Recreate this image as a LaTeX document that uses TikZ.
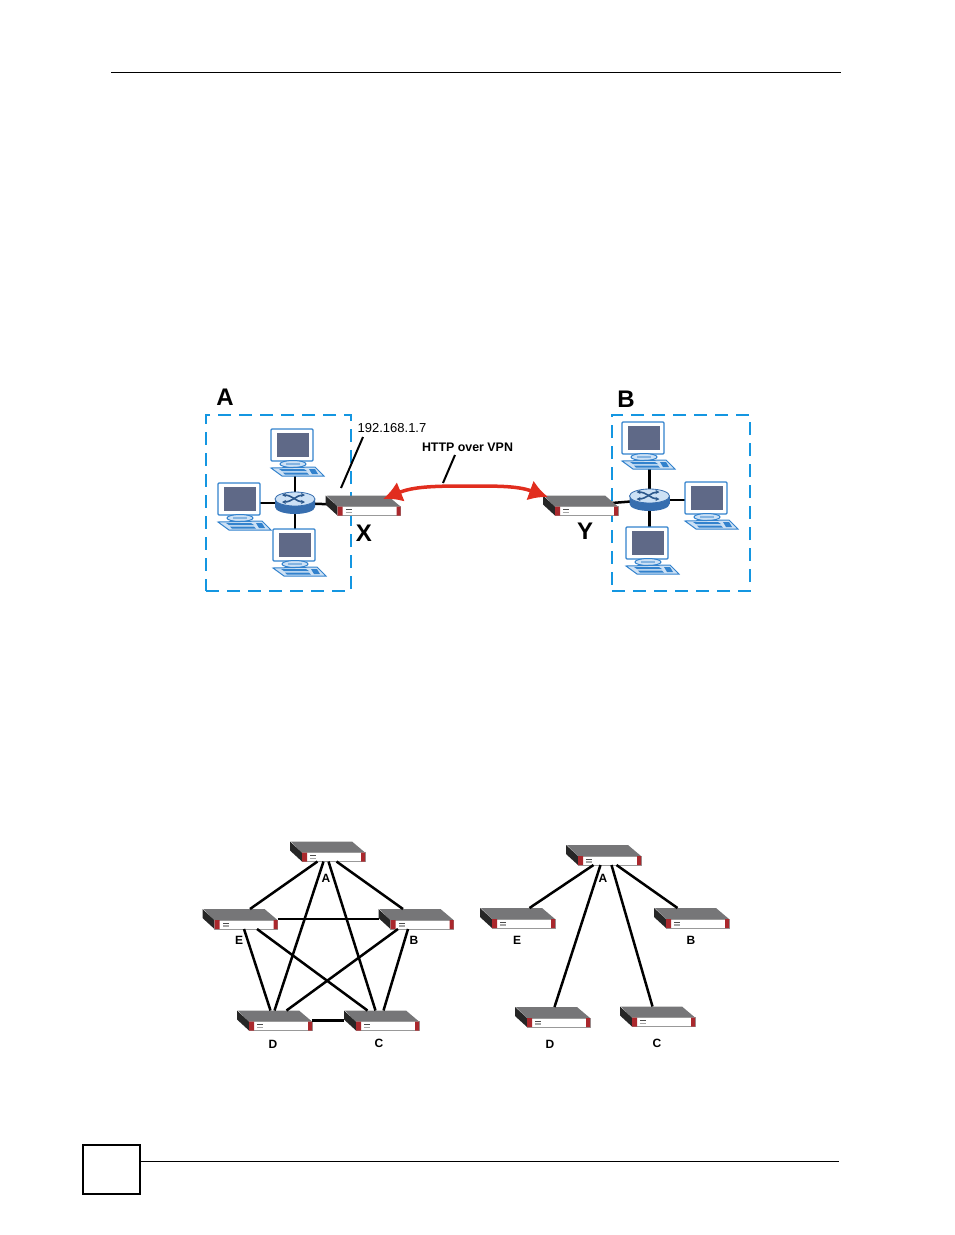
\documentclass[tikz,border=0pt]{standalone}
\usepackage{fontspec}
\setmainfont{Liberation Sans}
\usetikzlibrary{arrows.meta,backgrounds,calc}
\definecolor{zoneblue}{RGB}{20,150,225}
\definecolor{pcblue}{RGB}{50,130,205}
\definecolor{pcscreen}{RGB}{95,105,135}
\definecolor{keyfill}{RGB}{205,225,245}
\definecolor{rtrblue}{RGB}{55,110,175}
\definecolor{boxred}{RGB}{170,40,45}
\definecolor{boxtop}{RGB}{118,118,120}
\definecolor{vpnred}{RGB}{225,45,30}
\newcommand{\ArrTip}{Latex[length=19,width=21]}
\tikzset{zone/.style={draw=zoneblue,line width=2.3,dash pattern=on 13 off 8,inner sep=0,outer sep=0}}
\tikzset{devbox/.style={minimum width=75,minimum height=20,inner sep=0,outer sep=0}}
\tikzset{pcbox/.style={minimum width=53,minimum height=47,inner sep=0,outer sep=0}}
\tikzset{rtrbox/.style={minimum width=40,minimum height=22,inner sep=0,outer sep=0}}
\tikzset{link/.style={line width=2.5,black}}
\tikzset{biglabel/.style={font=\fontsize{24}{24}\selectfont\bfseries,inner sep=0}}
\tikzset{devlabel/.style={font=\fontsize{12}{12}\selectfont\bfseries,inner sep=0}}
\newcommand{\DevBox}[3]{\node[devbox](#1)at(#2,#3){};
\begin{scope}[shift={(#1.north west)}]
\fill[black!85](0,0)--(12,11)--(12,20)--(0,9)--cycle;
\fill[boxtop](1,0)--(62,0)--(75,11)--(12,11)--cycle;
\filldraw[fill=white,draw=black!40,line width=.8](12,11)rectangle(75,20);
\fill[boxred](12,11)rectangle(17,20)(71,11)rectangle(75,20);
\fill[black!70](20,13.5)rectangle(26,14.5);\fill[black!35](20,16)rectangle(26,17.5);
\end{scope}}
\newcommand{\PcBox}[3]{\node[pcbox](#1)at(#2,#3){};
\begin{scope}[shift={(#1.north west)}]
\filldraw[fill=white,draw=pcblue,line width=1.3,rounded corners=1](0,0)rectangle(42,32);
\fill[pcscreen](6,3.5)rectangle(38,28);
\filldraw[fill=keyfill,draw=pcblue,line width=1](22,35)ellipse(13 and 3.5);
\fill[pcblue!60](15,33.5)rectangle(29,36);
\filldraw[fill=keyfill,draw=pcblue,line width=1](0,39)--(44,38)--(53,47)--(11,47)--cycle;
\fill[pcblue](8,40)--(33,40)--(36,42)--(11,42)--cycle;\fill[pcblue](12,43.5)--(36,43.5)--(38,45.5)--(14,45.5)--cycle;
\fill[pcblue](38,40)--(44,40)--(47,45)--(41,45)--cycle;
\end{scope}}
\newcommand{\RtrBox}[3]{\node[rtrbox](#1)at(#2,#3){};
\begin{scope}[shift={(#1.center)}]
\shade[left color=rtrblue,middle color=white,right color=rtrblue](-20,-4)--(-20,4)arc(180:0:20 and 7)--(20,-4)--cycle;
\filldraw[fill=keyfill,draw=rtrblue,line width=.8](0,-4)ellipse(20 and 7);
\draw[rtrblue!80!black,line width=1.6,-{Stealth[length=4,width=4]}](-11,-8)to[out=0,in=180](10,-1);
\draw[rtrblue!80!black,line width=1.6,-{Stealth[length=4,width=4]}](-11,-1)to[out=0,in=180](10,-8);
\draw[rtrblue!80!black,line width=1.6,{Stealth[length=4,width=4]}-](-13,-8)--(-11,-8);
\draw[rtrblue!80!black,line width=1.6,{Stealth[length=4,width=4]}-](-13,-1)--(-11,-1);
\end{scope}}
\begin{document}
\begin{tikzpicture}[x=1pt,y=-1pt]
\useasboundingbox(0,0)rectangle(954,1235);
% page rules
\coordinate(ruleTL)at(111,72);\coordinate(ruleTR)at(841,72);
\draw[line width=1](ruleTL)--(ruleTR);
\node[draw,line width=2.6,minimum width=57,minimum height=49,inner sep=0,outer sep=0](pagebox)at(111.5,1169.5){};
\coordinate(ruleBR)at(839,1161);
\draw[line width=1](pagebox.east|-ruleBR)--(ruleBR);
% upper diagram
\node[zone,minimum width=145,minimum height=176](zoneA)at(278.5,503){};
\node[zone,minimum width=138,minimum height=176](zoneB)at(681,503){};
\node[biglabel](lblA)at(225,397){A};\node[biglabel](lblB)at(626,399){B};
\node[biglabel](lblX)at(364,533){X};\node[biglabel](lblY)at(585,531){Y};
\PcBox{pcAt}{297.5}{452.5}\PcBox{pcAl}{244.5}{506.5}\PcBox{pcAb}{299.5}{552.5}
\PcBox{pcBt}{648.5}{445.5}\PcBox{pcBr}{711.5}{505.5}\PcBox{pcBb}{652.5}{550.5}
\RtrBox{rtrA}{295}{503}\RtrBox{rtrB}{649.5}{500}
\DevBox{devX}{363}{505.5}\DevBox{devY}{580.5}{505.5}
\begin{scope}[on background layer]
\draw[link](rtrA.center)--(rtrA.center|-pcAt.center);\draw[link](rtrA.center)--(rtrA.center-|pcAl.center);\draw[link](rtrA.center)--(rtrA.center|-pcAb.center);\draw[link](rtrA.center)--(devX.center);
\draw[link](rtrB.center)--(rtrB.center|-pcBt.center);\draw[link](rtrB.center)--(rtrB.center-|pcBr.center);\draw[link](rtrB.center)--(rtrB.center|-pcBb.center);\draw[link](rtrB.center)--(devY.center);
\end{scope}
\node[inner sep=0,font=\fontsize{13}{13}\selectfont](ipaddr)at(392,428){192.168.1.7};
\node[inner sep=0,font=\fontsize{12.4}{12.4}\selectfont\bfseries](vpnlbl)at(467.5,447){HTTP over VPN};
\coordinate(ipend)at(341,488);\coordinate(ipstart)at(363,437);\coordinate(vpnstart)at(455,455);\coordinate(vpnend)at(443,483);
\draw[line width=2](ipstart)--(ipend);\draw[line width=2](vpnstart)--(vpnend);
\coordinate(vpnL)at(383,499);\coordinate(vpnR)at(548,497);
\draw[line width=3.5,vpnred,{\ArrTip}-{\ArrTip}](vpnL)to[out=22,in=180](465,486)to[out=0,in=160](vpnR);
% full mesh
\DevBox{mA}{327.5}{851.5}\DevBox{mE}{240}{919}\DevBox{mB}{416}{919}\DevBox{mD}{274.5}{1020.5}\DevBox{mC}{381.5}{1020.5}
\draw[link]($(mA.south)+(-10,0)$)--($(mE.north)+(10,0)$);\draw[link]($(mA.south)+(-4,0)$)--($(mD.north)+(0,0)$);
\draw[link]($(mA.south)+(1,0)$)--($(mC.north)+(-6,0)$);\draw[link]($(mA.south)+(9,0)$)--($(mB.north)+(-13,0)$);
\draw[link](mE.east)--(mB.west);
\draw[link]($(mE.south)+(4,0)$)--($(mD.north)+(-4,0)$);\draw[link]($(mE.south)+(17,0)$)--($(mC.north)+(-14,0)$);
\draw[link]($(mB.south)+(-18,0)$)--($(mD.north)+(12,0)$);\draw[link]($(mB.south)+(-8,0)$)--($(mC.north)+(2,0)$);
\draw[link](mD.east)--(mC.west);
\node[devlabel](tA)at(326,878){A};\node[devlabel](tE)at(239,940){E};\node[devlabel](tB)at(414,940){B};\node[devlabel](tD)at(273,1044){D};\node[devlabel](tC)at(379,1043){C};
% hub and spoke
\DevBox{sA}{603.5}{855}\DevBox{sE}{517.5}{918}\DevBox{sB}{691.5}{918}\DevBox{sD}{552.5}{1017}\DevBox{sC}{657.5}{1016.5}
\draw[link]($(sA.south)+(-10,0)$)--($(sE.north)+(12,0)$);\draw[link]($(sA.south)+(-3,0)$)--($(sD.north)+(2,0)$);
\draw[link]($(sA.south)+(8,0)$)--($(sC.north)+(-5,0)$);\draw[link]($(sA.south)+(13,0)$)--($(sB.north)+(-14,0)$);
\node[devlabel](uA)at(603,878){A};\node[devlabel](uE)at(517,940){E};\node[devlabel](uB)at(691,940){B};\node[devlabel](uD)at(550,1044){D};\node[devlabel](uC)at(657,1043){C};
\end{tikzpicture}
\end{document}
